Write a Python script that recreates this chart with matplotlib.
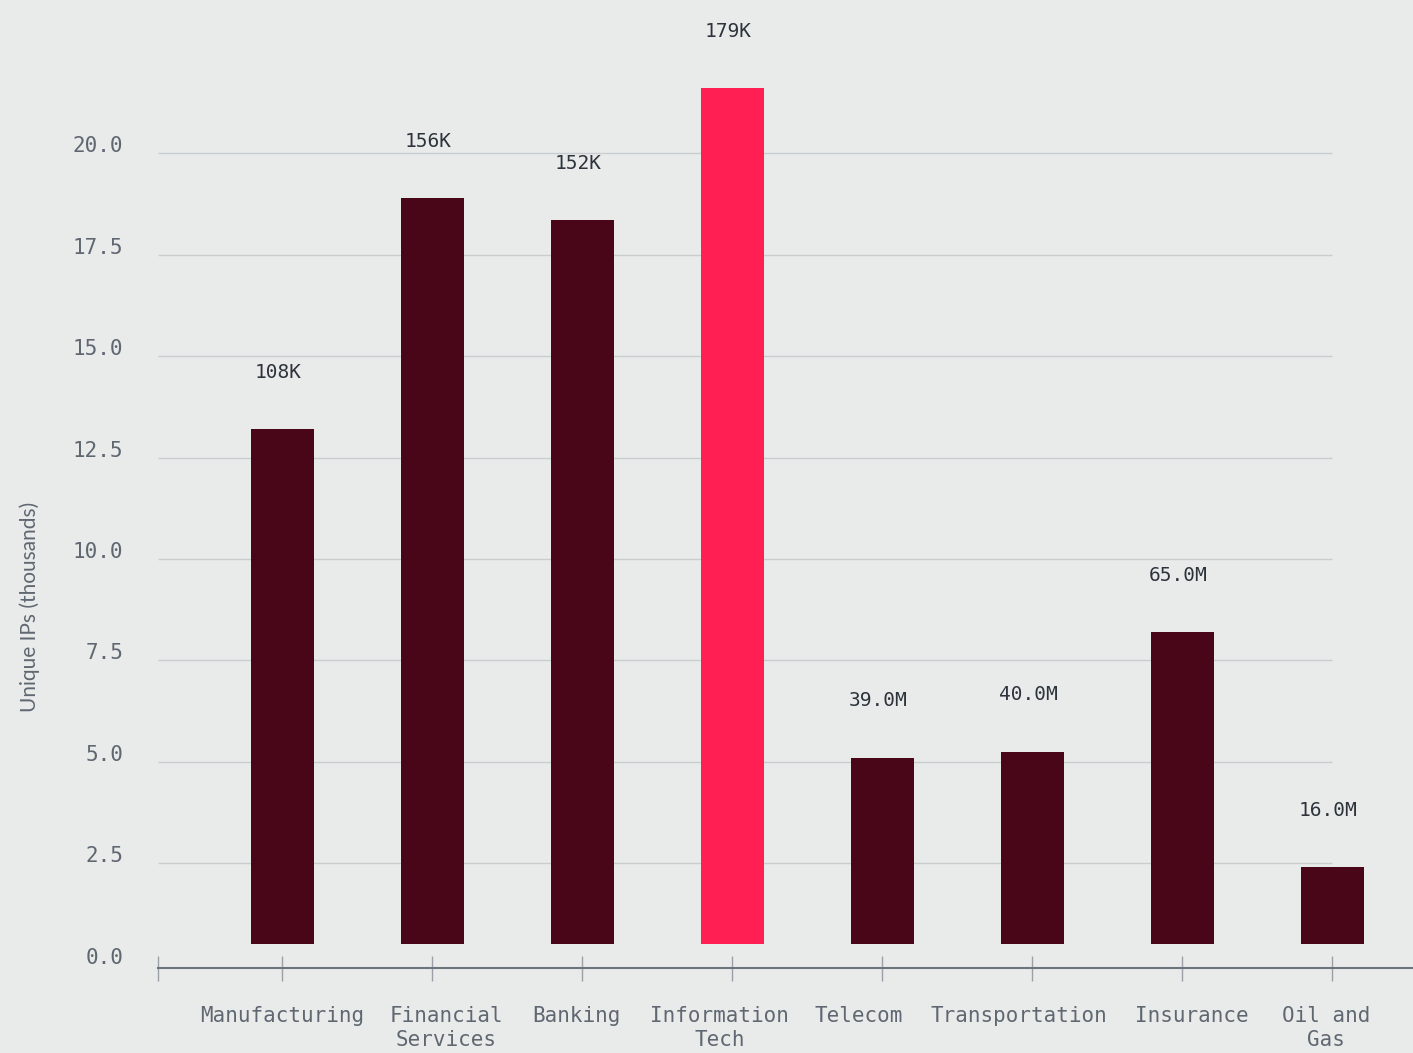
import matplotlib.pyplot as plt
import matplotlib.transforms as mtransforms
import numpy as np

# Data
categories = ['Manufacturing', 'Financial\nServices', 'Banking', 'Information\nTech',
              'Telecom', 'Transportation', 'Insurance', 'Oil and\nGas']
values = [13.2, 18.9, 18.35, 21.6, 5.1, 5.25, 8.2, 2.4]
value_labels = ['108K', '156K', '152K', '179K', '39.0M', '40.0M', '65.0M', '16.0M']
y_ticks = [0.0, 2.5, 5.0, 7.5, 10.0, 12.5, 15.0, 17.5, 20.0]
highlight = 'Information\nTech'

# small horizontal nudges (px) of the category labels, as in the reference
label_nudge = [0, 14, -6, -13, -24, -13, 10, -6]

bg = '#e9ebeb'
dark = '#4a0619'
hot = '#ff1f52'
text_grey = '#5f6770'
mono = 'DejaVu Sans Mono'

fig = plt.figure(figsize=(14.13, 10.53), dpi=100, facecolor=bg)
ax = fig.add_axes([0.1118, 0.0807, 0.8882, 0.870], facecolor=bg)

x = np.arange(len(categories))
base = 0.5
colors = [hot if c == highlight else dark for c in categories]
ax.bar(x, np.array(values) - base, bottom=base, width=0.42, color=colors, zorder=3)

# value labels above bars
for xi, v, lab in zip(x, values, value_labels):
    ax.annotate(lab, (xi, v), xytext=(-3, 41), textcoords='offset points',
                ha='center', va='center', fontsize=14, family=mono, color='#2d333b')

ax.set_xlim(-0.83, 7.54)
ax.set_ylim(-0.08, 22.5)

# horizontal gridlines ending at the last category
ax.hlines(y_ticks[1:], -0.83, x[-1], color='#c9cdcd', linewidth=1, zorder=1)

for s in ['top', 'right', 'left']:
    ax.spines[s].set_visible(False)
ax.spines['bottom'].set_color('#6b757e')
ax.spines['bottom'].set_linewidth(1.5)

ax.set_xticks([-0.83] + list(x))
ax.set_xticklabels([''] + categories, family=mono, fontsize=15, color=text_grey,
                   linespacing=1.3)
ax.tick_params(axis='x', direction='inout', length=18, width=1, color='#9aa0a6', pad=18)
for lab, dx in zip(ax.get_xticklabels()[1:], label_nudge):
    lab.set_transform(lab.get_transform() +
                      mtransforms.ScaledTranslation(dx / 100, 0, fig.dpi_scale_trans))

ax.set_yticks(y_ticks)
ax.set_yticklabels([f'{t:.1f}' for t in y_ticks], family=mono, fontsize=15, color=text_grey)
ax.tick_params(axis='y', length=0, pad=25)
shift = mtransforms.ScaledTranslation(0, 0.09, fig.dpi_scale_trans)
for lab in ax.get_yticklabels():
    lab.set_transform(lab.get_transform() + shift)

fig.text(0.021, 0.4235, 'Unique IPs (thousands)', rotation=90, ha='center', va='center',
         fontsize=15, family='Lato', color=text_grey)

fig.savefig('out.png', dpi=100, facecolor=bg)
